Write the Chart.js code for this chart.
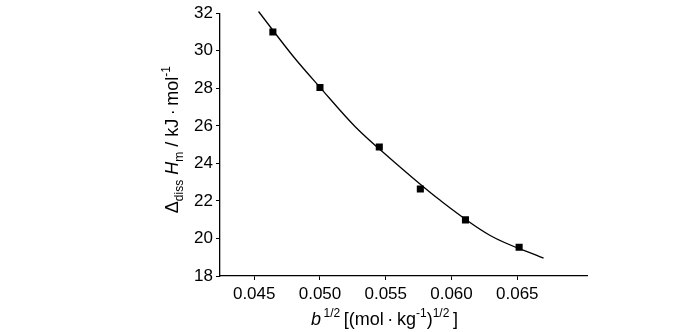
<!DOCTYPE html>
<html>
<head>
<meta charset="utf-8">
<script src="https://cdn.jsdelivr.net/npm/chart.js@4"></script>
<style>
  html, body { margin: 0; padding: 0; background: #fff; }
  #wrap { width: 700px; height: 332px; }
</style>
</head>
<body>
<div id="wrap"><canvas id="myChart" width="700" height="332"></canvas></div>
<script>
// measured points
const ptX = [0.04642, 0.0500, 0.05451, 0.05763, 0.06106, 0.06514];
const ptY = [31.0, 28.04, 24.87, 22.63, 20.99, 19.53];

// fitted curve
const fitX = [0.04533, 0.04799, 0.0500, 0.05268, 0.05534, 0.05914, 0.06294, 0.0670];
const fitY = [32.09, 29.68, 28.05, 25.95, 24.26, 22.03, 20.16, 18.95];

// tick labels
const xTicks = [0.045, 0.050, 0.055, 0.060, 0.065];
const yTicks = [18, 20, 22, 24, 26, 28, 30, 32];

const FONT = "'Liberation Sans', Arial, sans-serif";

// draw a line of text made of pieces (normal / italic / sub / sup)
function drawRich(ctx, parts, cx, baseY) {
    const fontOf = p => (p.italic ? "italic " : "") + (p.sub || p.sup ? 12 : 18) + "px " + FONT;
    let total = 0;
    parts.forEach(p => { ctx.font = fontOf(p); p.w = ctx.measureText(p.t).width; total += p.w; });
    let x = cx - total / 2;
    ctx.textBaseline = "alphabetic";
    ctx.textAlign = "left";
    parts.forEach(p => {
        ctx.font = fontOf(p);
        let dy = 0;
        if (p.sub) dy = 5;
        if (p.sup) dy = -8;
        ctx.fillText(p.t, x, baseY + dy);
        x += p.w;
    });
}

const axisTitles = {
    id: "axisTitles",
    afterDraw(chart) {
        const ctx = chart.ctx;
        const a = chart.chartArea;
        ctx.save();
        ctx.fillStyle = "#000";
        // x title
        drawRich(ctx, [
            { t: "b", italic: true },
            { t: "\u20091/2", sup: true },
            { t: "\u2009[(mol\u2009·\u2009kg" },
            { t: "-1", sup: true },
            { t: ")" },
            { t: "1/2", sup: true },
            { t: "\u2009]" }
        ], (a.left + a.right) / 2 - 19, 325);
        // y title
        ctx.translate(a.left - 42, (a.top + a.bottom) / 2 - 5);
        ctx.rotate(-Math.PI / 2);
        drawRich(ctx, [
            { t: "Δ" },
            { t: "diss", sub: true },
            { t: " " },
            { t: "H", italic: true },
            { t: "m", sub: true },
            { t: " / kJ\u2009·\u2009mol" },
            { t: "-1", sup: true }
        ], 0, 0);
        ctx.restore();
    }
};

const ctx = document.getElementById("myChart").getContext("2d");
const myChart = new Chart(ctx, {
    type: "scatter",
    data: {
        datasets: [{
            type: "line",
            data: fitX.map((x, i) => ({ x: x, y: fitY[i] })),
            borderColor: "#000",
            borderWidth: 1.3,
            pointRadius: 0,
            cubicInterpolationMode: "monotone",
            fill: false,
            clip: false
        }, {
            data: ptX.map((x, i) => ({ x: x, y: ptY[i] })),
            pointStyle: "rect",
            pointRadius: 5,
            backgroundColor: "#000",
            borderColor: "#000",
            borderWidth: 0
        }]
    },
    options: {
        responsive: false,
        animation: false,
        layout: { padding: { left: 180, right: 113, top: 13, bottom: 0 } },
        plugins: { legend: { display: false }, tooltip: { enabled: false } },
        scales: {
            x: {
                type: "linear",
                min: 0.0424,
                max: 0.0703,
                afterBuildTicks: s => { s.ticks = xTicks.map(v => ({ value: v })); },
                afterFit: s => { s.height = 56; },
                ticks: {
                    color: "#000",
                    font: { family: FONT, size: 17 },
                    padding: 4,
                    maxRotation: 0,
                    callback: v => v.toFixed(3)
                },
                grid: { drawOnChartArea: false, drawTicks: true, tickLength: 4, color: "#000" },
                border: { display: true, color: "#000", width: 1.3 }
            },
            y: {
                min: 18,
                max: 32,
                afterBuildTicks: s => { s.ticks = yTicks.map(v => ({ value: v })); },
                afterFit: s => { s.width = 40; },
                ticks: {
                    color: "#000",
                    font: { family: FONT, size: 17 },
                    padding: 3
                },
                grid: { drawOnChartArea: false, drawTicks: true, tickLength: 4, color: "#000" },
                border: { display: true, color: "#000", width: 1.3 }
            }
        }
    },
    plugins: [axisTitles]
});
</script>
</body>
</html>
